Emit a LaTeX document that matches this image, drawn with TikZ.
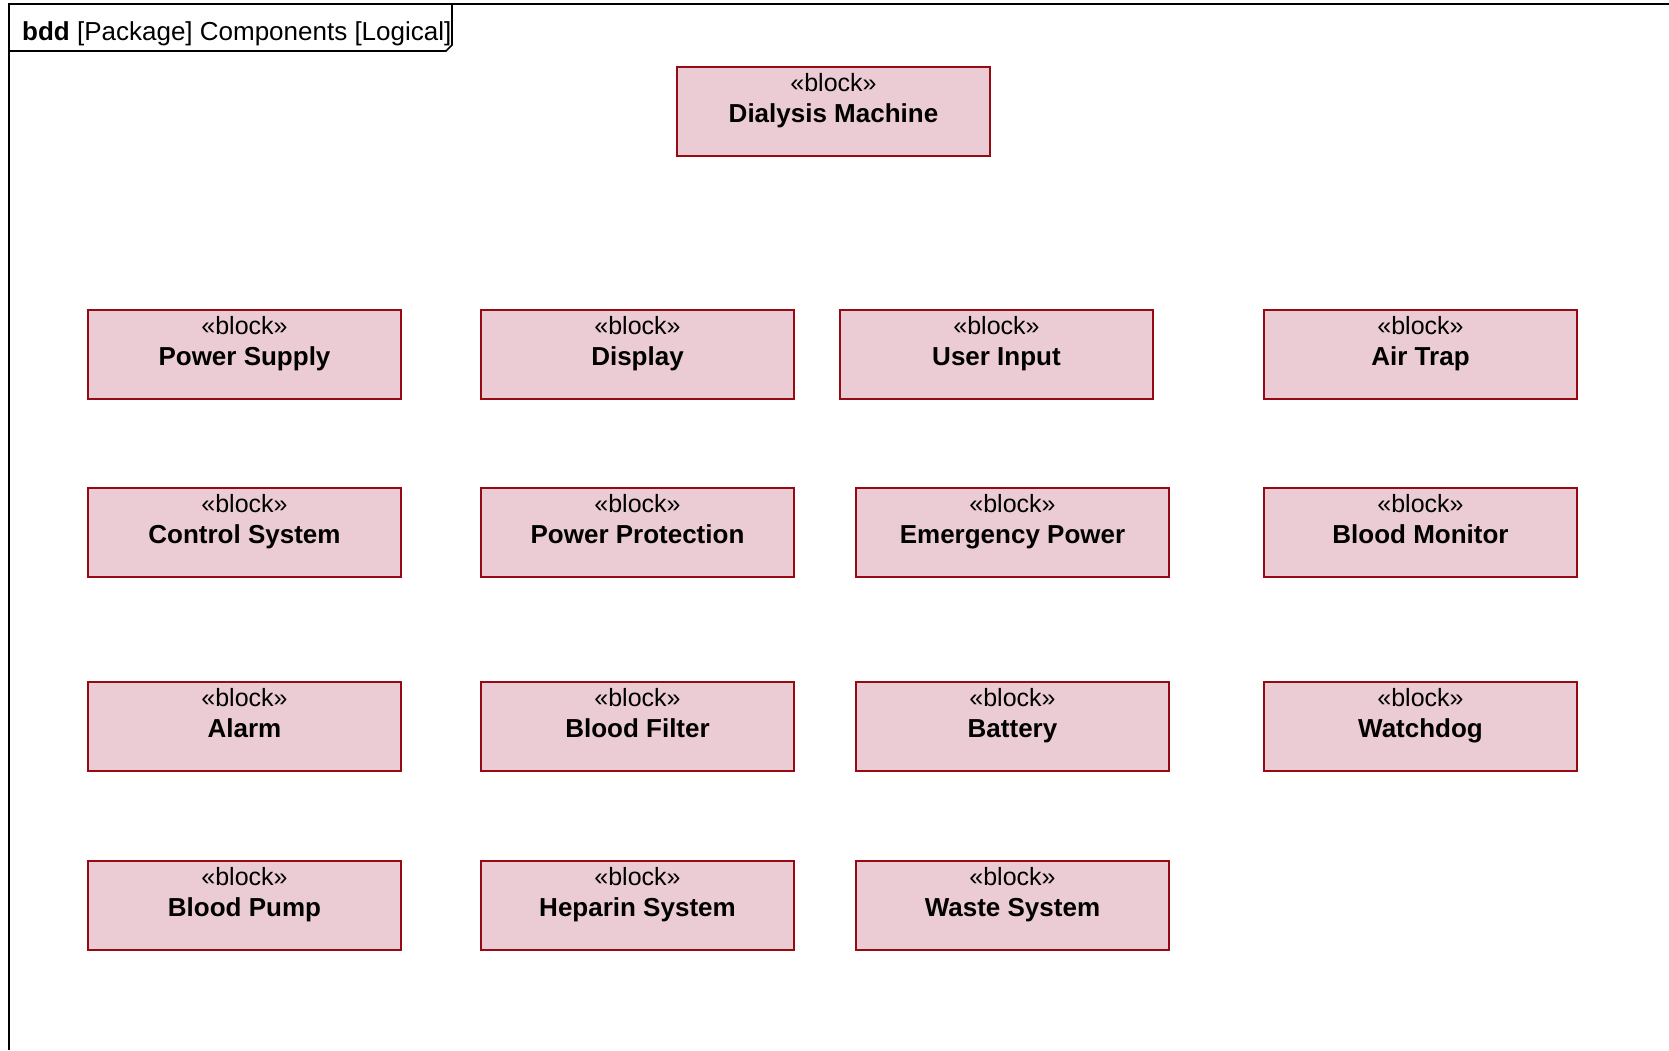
\documentclass[tikz,border=0pt]{standalone}
\usepackage{fontspec}
\setmainfont{Liberation Sans}
\definecolor{blockfill}{RGB}{236,204,212}
\definecolor{blockline}{RGB}{150,10,20}
\tikzset{
  x=1pt, y=-1pt,
  blk/.style={draw=blockline, line width=2pt, fill=blockfill, anchor=north west,
    minimum width=313pt, minimum height=89pt, inner sep=0pt},
  stereo/.style={font=\fontsize{25}{30}\selectfont, inner sep=0pt, anchor=base},
  bname/.style={font=\fontsize{26}{31}\selectfont\bfseries, inner sep=0pt, anchor=base},
  frameline/.style={draw=black, line width=2.2pt},
}
% a SysML block: box, stereotype line and name
\newcommand{\sysblock}[4]{%
  \node[blk] (#1) at (#2,#3) {};
  \node[stereo] (#1-st) at ([yshift=-25pt]#1.north) {«block»};
  \node[bname] (#1-nm) at ([yshift=-56pt]#1.north) {#4};
}
\begin{document}
\begin{tikzpicture}
\useasboundingbox (0,0) rectangle (1669,1050);
\fill[white] (0,0) rectangle (1669,1050);
% diagram frame and its name tab
\draw[frameline] (1669,4) -- (9,4) -- (9,1050);
\draw[frameline, line width=1.6pt] (9,51) -- (446,51) -- (452,45) -- (452,4);
\node[anchor=base west, inner sep=0pt, font=\fontsize{26}{31}\selectfont] (title) at (22,40)
  {\textbf{bdd} [Package] Components [Logical]};
% blocks
\sysblock{dm}{676}{66}{Dialysis Machine}
\sysblock{ps}{87}{309}{Power Supply}
\sysblock{disp}{480}{309}{Display}
\sysblock{ui}{839}{309}{User Input}
\sysblock{at}{1263}{309}{Air Trap}
\sysblock{cs}{87}{487}{Control System}
\sysblock{pp}{480}{487}{Power Protection}
\sysblock{ep}{855}{487}{Emergency Power}
\sysblock{bm}{1263}{487}{Blood Monitor}
\sysblock{al}{87}{681}{Alarm}
\sysblock{bf}{480}{681}{Blood Filter}
\sysblock{bat}{855}{681}{Battery}
\sysblock{wd}{1263}{681}{Watchdog}
\sysblock{bp}{87}{860}{Blood Pump}
\sysblock{hs}{480}{860}{Heparin System}
\sysblock{ws}{855}{860}{Waste System}
\end{tikzpicture}
\end{document}
